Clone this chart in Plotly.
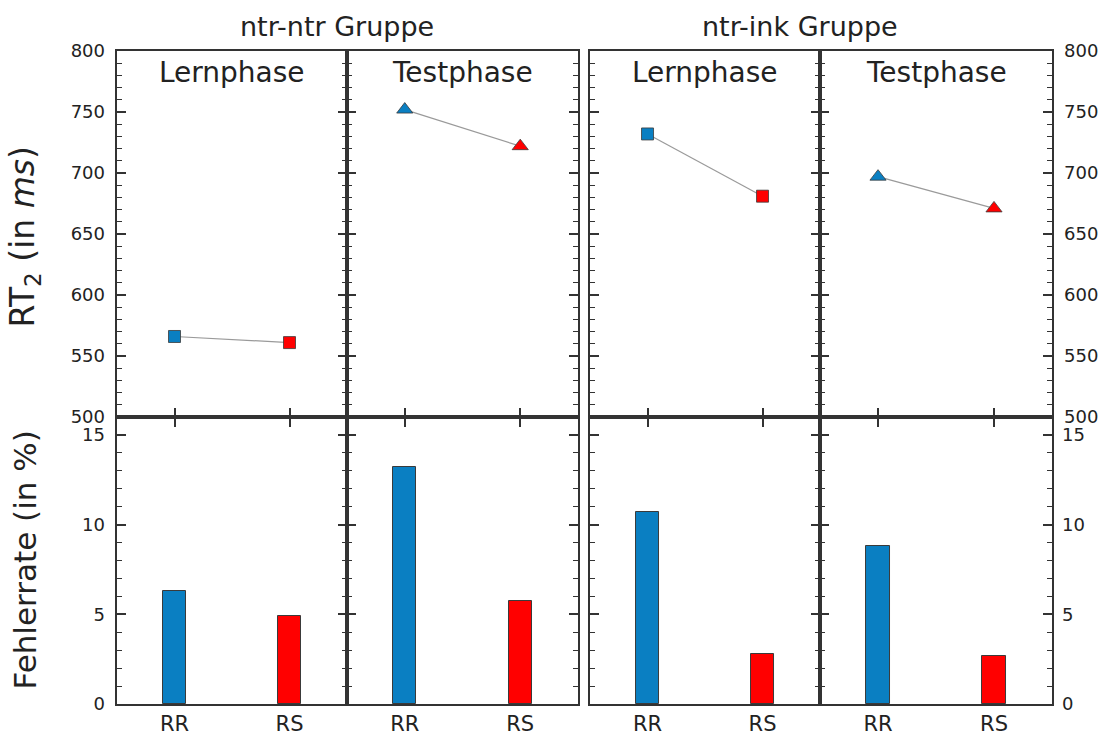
import plotly.graph_objects as go

# ---------------- data ----------------
categories = ["RR", "RS"]
group_titles = ["ntr-ntr Gruppe", "ntr-ink Gruppe"]
phase_titles = ["Lernphase", "Testphase", "Lernphase", "Testphase"]

rt_ntr_lern = [566, 561]
rt_ntr_test = [752, 722]
rt_ink_lern = [732, 681]
rt_ink_test = [697, 671]

err_ntr_lern = [6.3, 4.9]
err_ntr_test = [13.2, 5.75]
err_ink_lern = [10.7, 2.8]
err_ink_test = [8.8, 2.7]

rt_ticks = [500, 550, 600, 650, 700, 750, 800]
err_ticks = [0, 5, 10, 15]

# ---------------- styling ----------------
BLUE = "#0A7FC2"
RED = "#FF0000"
AX = "#333333"
TXT = "#222222"
FONT = "Verdana, DejaVu Sans, sans-serif"

rt_series = [rt_ntr_lern, rt_ntr_test, rt_ink_lern, rt_ink_test]
err_series = [err_ntr_lern, err_ntr_test, err_ink_lern, err_ink_test]
symbols = ["square", "triangle-up", "square", "triangle-up"]
msizes = [12, 14, 12, 14]

xdoms = [[0.0, 0.2460], [0.2460, 0.4930], [0.5059, 0.7519], [0.7519, 1.0]]
split = 0.4395
top_dom = [split, 1.0]
bot_dom = [0.0, split]


def ax_name(prefix, n):
    return prefix if n == 1 else f"{prefix}{n}"


fig = go.Figure()

for i in range(4):
    xt, yt = ax_name("x", i + 1), ax_name("y", i + 1)
    xb, yb = f"x{i+5}", f"y{i+5}"
    fig.add_trace(go.Scatter(x=categories, y=rt_series[i], mode="lines",
                             line=dict(color="#9a9a9a", width=1.2),
                             xaxis=xt, yaxis=yt, hoverinfo="skip", showlegend=False))
    fig.add_trace(go.Scatter(x=categories, y=rt_series[i], mode="markers",
                             marker=dict(symbol=symbols[i], size=msizes[i], color=[BLUE, RED],
                                         line=dict(color="#3a3a3a", width=0.8)),
                             xaxis=xt, yaxis=yt, showlegend=False))
    fig.add_trace(go.Bar(x=categories, y=err_series[i], width=0.2,
                         marker=dict(color=[BLUE, RED], line=dict(color="#3a3a3a", width=1)),
                         xaxis=xb, yaxis=yb, showlegend=False))
    # transparent helper so the overlay x-axis (lower half of crossing ticks) is drawn
    fig.add_trace(go.Scatter(x=categories, y=rt_series[i], mode="markers",
                             marker=dict(opacity=0, size=1), hoverinfo="skip",
                             xaxis=f"x{i+9}", yaxis=yt, showlegend=False))

layout = dict(
    width=1104, height=736,
    margin=dict(l=117, r=52, t=51, b=32),
    paper_bgcolor="white", plot_bgcolor="white",
    font=dict(family=FONT, color=TXT),
    showlegend=False,
    bargap=0,
)

common_line = dict(showline=True, linecolor=AX, linewidth=1.6, showgrid=False,
                   zeroline=False, automargin=False)

for i in range(4):
    kx, ky = ax_name("xaxis", i + 1), ax_name("yaxis", i + 1)
    xname, yname = ax_name("x", i + 1), ax_name("y", i + 1)
    layout[kx] = dict(domain=xdoms[i], anchor=yname, type="category",
                      categoryorder="array", categoryarray=categories,
                      range=[-0.5, 1.5], mirror=True, ticks="inside", ticklen=9,
                      tickwidth=1.5, tickcolor=AX, showticklabels=False, **common_line)
    layout[ky] = dict(domain=top_dom, anchor=xname, range=[500, 800],
                      tickvals=rt_ticks, mirror="ticks", ticks="inside", ticklen=9,
                      tickwidth=1.5, tickcolor=AX, showticklabels=False,
                      minor=dict(dtick=10, ticks="inside", ticklen=5, tickwidth=1.2,
                                 tickcolor=AX, showgrid=False),
                      **common_line)
    layout[f"xaxis{i+5}"] = dict(domain=xdoms[i], anchor=f"y{i+5}", type="category",
                                 categoryorder="array", categoryarray=categories,
                                 range=[-0.5, 1.5], mirror=True, ticks="",
                                 tickfont=dict(size=21, family=FONT, color=TXT),
                                 **common_line)
    layout[f"yaxis{i+5}"] = dict(domain=bot_dom, anchor=f"x{i+5}", range=[0, 16],
                                 tickvals=err_ticks, mirror="ticks", ticks="inside",
                                 ticklen=9, tickwidth=1.5, tickcolor=AX,
                                 showticklabels=False,
                                 minor=dict(dtick=1, ticks="inside", ticklen=5,
                                            tickwidth=1.2, tickcolor=AX, showgrid=False),
                                 **common_line)
    layout[f"xaxis{i+9}"] = dict(overlaying=xname, anchor=yname, side="bottom",
                                 type="category", categoryorder="array",
                                 categoryarray=categories, range=[-0.5, 1.5],
                                 ticks="outside", ticklen=9, tickwidth=1.5, tickcolor=AX,
                                 showticklabels=False, showline=False, showgrid=False,
                                 zeroline=False, automargin=False)

# overlay y-axes carrying the outer tick labels
lab_font = dict(size=18, family=FONT, color=TXT)
outer = [
    ("yaxis9", "y9", "y", "x", "left", [500, 800], rt_ticks, rt_series[0], 11),
    ("yaxis10", "y10", "y4", "x4", "right", [500, 800], rt_ticks, rt_series[3], 11),
    ("yaxis11", "y11", "y5", "x5", "left", [0, 16], err_ticks, err_series[0], 11),
    ("yaxis12", "y12", "y8", "x8", "right", [0, 16], err_ticks, err_series[3], 9),
]
for key, name, ov, anc, side, rng, tv, vals, so in outer:
    layout[key] = dict(overlaying=ov, anchor=anc, side=side, range=rng, tickvals=tv,
                       ticks="", showticklabels=True, tickfont=lab_font,
                       ticklabelstandoff=so, showline=False, showgrid=False,
                       zeroline=False, automargin=False)
    fig.add_trace(go.Scatter(x=categories, y=vals, mode="markers",
                             marker=dict(opacity=0, size=1), hoverinfo="skip",
                             xaxis=anc, yaxis=name, showlegend=False))

fig.update_layout(**layout)

annotations = []
for gx, txt in zip([0.2353, 0.7305], group_titles):
    annotations.append(dict(text=txt, x=gx, y=1.0, xref="paper", yref="paper",
                            xanchor="center", yanchor="bottom", yshift=7,
                            showarrow=False, font=dict(size=27, family=FONT, color=TXT)))
for i, txt in enumerate(phase_titles):
    cx = (xdoms[i][0] + xdoms[i][1]) / 2
    annotations.append(dict(text=txt, x=cx, y=1.0, xref="paper", yref="paper",
                            xanchor="center", yanchor="top", yshift=-3,
                            showarrow=False, font=dict(size=28, family=FONT, color=TXT)))
annotations.append(dict(text="RT<sub>2</sub> (in <i>ms</i>)", x=0, y=(split + 1) / 2 - 0.004,
                        xref="paper", yref="paper", xanchor="center", yanchor="middle",
                        xshift=-92, textangle=-90, showarrow=False,
                        font=dict(size=33, family=FONT, color=TXT)))
annotations.append(dict(text="Fehlerrate (in %)", x=0, y=split / 2,
                        xref="paper", yref="paper", xanchor="center", yanchor="middle",
                        xshift=-92, textangle=-90, showarrow=False,
                        font=dict(size=31, family=FONT, color=TXT)))
fig.update_layout(annotations=annotations)

fig.write_html("out.html")
